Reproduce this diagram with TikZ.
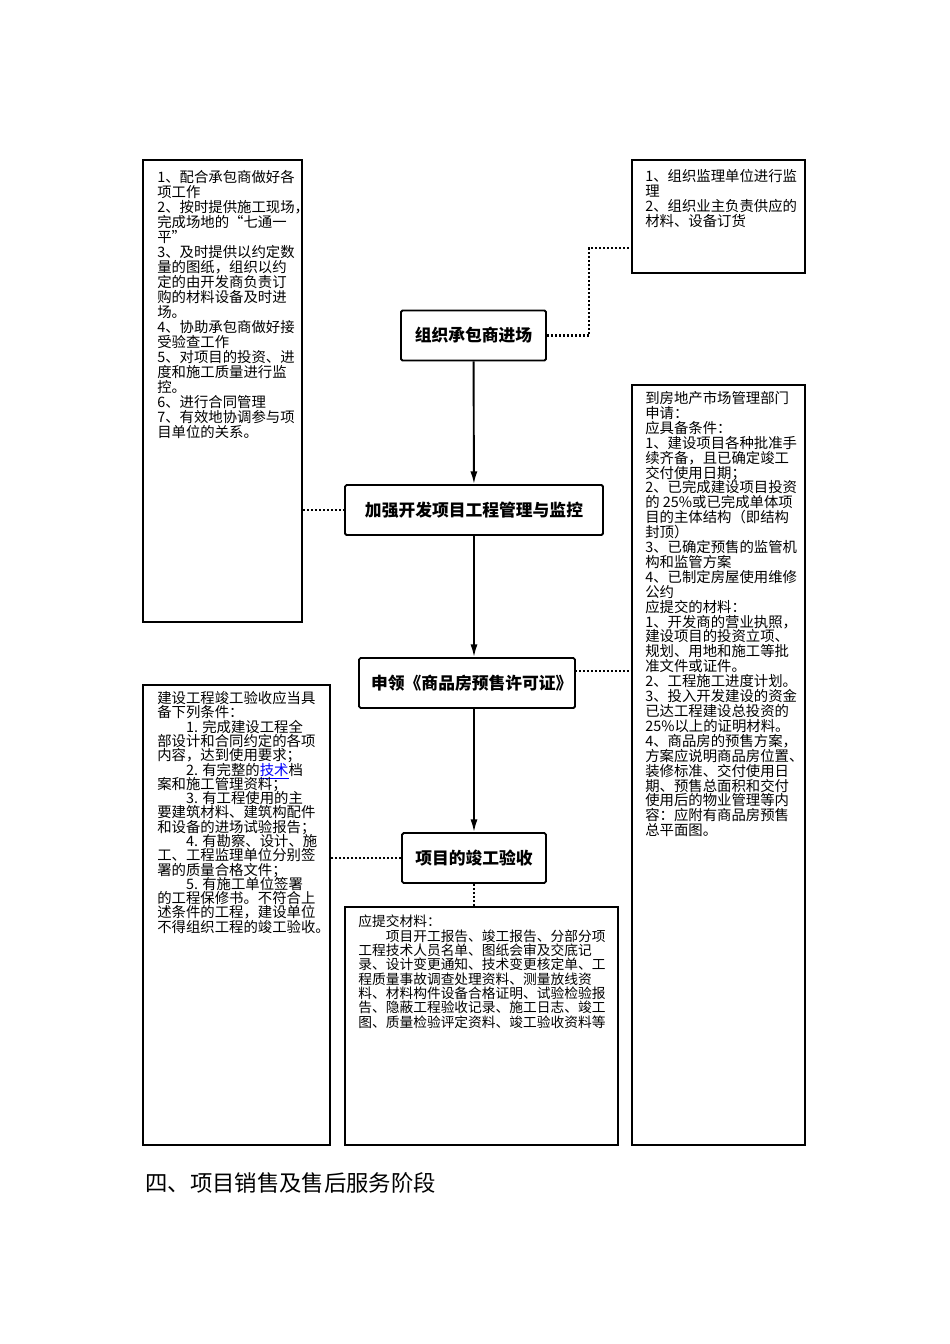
\documentclass[tikz,border=0pt]{standalone}
\usepackage{fontspec}
\newfontfamily\cjk{Noto Sans CJK SC}
\usetikzlibrary{arrows.meta,fit}
\newcommand\infofont[2]{\cjk\fontsize{#1}{#2}\selectfont\lineskiplimit=-5pt\relax}

\begin{document}
\begin{tikzpicture}[x=0.626pt,y=-0.626pt,
		stepbox/.style={draw,line width=1.2pt,rounded corners=1pt,inner sep=0pt,minimum height=31.3pt,font=\cjk\bfseries\fontsize{10.5pt}{12pt}\selectfont},
		infobox/.style={draw,line width=1.3pt,inner sep=0pt},
		infotext/.style={anchor=north west,inner sep=0pt,align=left,font=\infofont{9pt}{9.4pt}},
		flow/.style={line width=1.2pt,-{Latex[length=8pt,width=4.5pt]}},
		dotline/.style={line width=1.3pt,dash pattern=on 1.3pt off 1.2pt}]
		\fill[white] (0,0) rectangle (950,1344);
		\useasboundingbox (0,0) rectangle (950,1344);

		\node[infobox, fit={(143,160) (302,622)}] (ltop) {};
		\node[infobox, fit={(632,160) (805,273)}] (rtop) {};
		\node[infobox, fit={(632,385) (805,1145)}] (rbig) {};
		\node[infobox, fit={(143,685) (330,1145)}] (lbot) {};
		\node[infobox, fit={(345,907) (618,1145)}] (mbot) {};

		\node[stepbox, minimum width=90.8pt] (enter) at (473.5,335.5) {组织承包商进场};
		\node[stepbox, minimum width=161.5pt] (manage) at (474,510) {加强开发项目工程管理与监控};
		\node[stepbox, minimum width=135.2pt] (permit) at (467,683) {\hspace{6pt}申领《商品房预售许可证》};
		\node[stepbox, minimum width=90.1pt] (accept) at (474,858) {项目的竣工验收};

		\node[infotext] (ltoptext) at (157,170) {1、配合承包商做好各\\
			项工作\\
			2、按时提供施工现场\makebox[0.5em][l]{，}\\
			完成场地的“七通一\\
			平”\\
			3、及时提供以约定数\\
			量的图纸，组织以约\\
			定的由开发商负责订\\
			购的材料设备及时进\\
			场。\\
			4、协助承包商做好接\\
			受验查工作\\
			5、对项目的投资、进\\
			度和施工质量进行监\\
			控。\\
			6、进行合同管理\\
			7、有效地协调参与项\\
			目单位的关系。};

		\node[infotext] (rtoptext) at (645,169) {1、组织监理单位进行监\\
			理\\
			2、组织业主负责供应的\\
			材料、设备订货};

		\node[infotext, font=\infofont{9pt}{9.33pt}] (rbigtext) at (645,391) {到房地产市场管理部门\\
			申请：\\
			应具备条件：\\
			1、建设项目各种批准手\\
			续齐备，且已确定竣工\\
			交付使用日期；\\
			2、已完成建设项目投资\\
			的 25\%或已完成单体项\\
			目的主体结构（即结构\\
			封顶）\\
			3、已确定预售的监管机\\
			构和监管方案\\
			4、已制定房屋使用维修\\
			公约\\
			应提交的材料：\\
			1、开发商的营业执照，\\
			建设项目的投资立项、\\
			规划、用地和施工等批\\
			准文件或证件。\\
			2、工程施工进度计划。\\
			3、投入开发建设的资金\\
			已达工程建设总投资的\\
			25\%以上的证明材料。\\
			4、商品房的预售方案，\\
			方案应说明商品房位置\makebox[0.5em][l]{、}\\
			装修标准、交付使用日\\
			期、预售总面积和交付\\
			使用后的物业管理等内\\
			容：应附有商品房预售\\
			总平面图。};

		\node[infotext, font=\infofont{9pt}{8.95pt}] (lbottext) at (157,691) {建设工程竣工验收应当具\\
			备下列条件：\\
			\hspace*{2em}1. 完成建设工程全\\
			部设计和合同约定的各项\\
			内容，达到使用要求；\\
			\hspace*{2em}2. 有完整的\textcolor{blue}{\underline{技术}}档\\
			案和施工管理资料；\\
			\hspace*{2em}3. 有工程使用的主\\
			要建筑材料、建筑构配件\\
			和设备的进场试验报告；\\
			\hspace*{2em}4. 有勘察、设计、施\\
			工、工程监理单位分别签\\
			署的质量合格文件；\\
			\hspace*{2em}5. 有施工单位签署\\
			的工程保修书。不符合上\\
			述条件的工程，建设单位\\
			不得组织工程的竣工验收\makebox[0.5em][l]{。}};

		\node[infotext, font=\infofont{8.6pt}{8.95pt}] (mbottext) at (358,915) {应提交材料：\\
			\hspace*{2em}项目开工报告、竣工报告、分部分项\\
			工程技术人员名单、图纸会审及交底记\\
			录、设计变更通知、技术变更核定单、工\\
			程质量事故调查处理资料、测量放线资\\
			料、材料构件设备合格证明、试验检验报\\
			告、隐蔽工程验收记录、施工日志、竣工\\
			图、质量检验评定资料、竣工验收资料等};

		\node[anchor=west, inner sep=0pt, font=\cjk\fontsize{14pt}{16pt}\selectfont] (stage) at (145,1183) {四、项目销售及售后服务阶段};

		\coordinate (bend) at (589,248);
		\coordinate (permitdot) at (575,671);

		\draw[flow] (enter) -- (manage);
		\draw[flow] (manage.south) -- (manage.south |- permit.north);
		\draw[flow] (manage.south |- permit.south) -- (accept);

		\draw[dotline] (enter.east) -| (bend) -- (bend -| rtop.west);
		\draw[dotline] (manage.west -| ltop.east) -- (manage.west);
		\draw[dotline] (permitdot) -- (permitdot -| rbig.west);
		\draw[dotline] (accept.west) -- (accept.west -| lbot.east);
		\draw[dotline] (accept.south) -- (accept.south |- mbot.north);
	\end{tikzpicture}
\end{document}
